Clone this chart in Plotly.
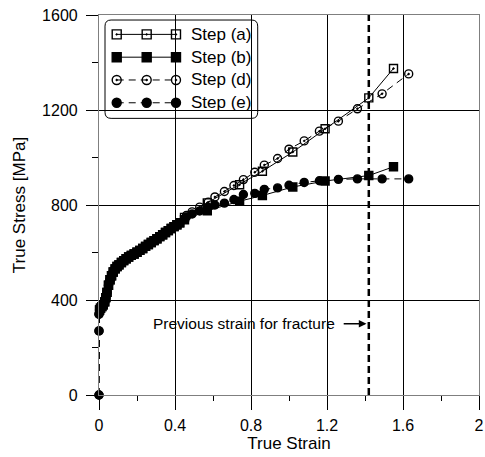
import plotly.graph_objects as go

# ---- data ----
early_strain = [0, 0, 0, 0.003, 0.008, 0.015, 0.022, 0.03, 0.036, 0.042, 0.05, 0.058,
                0.066, 0.075, 0.085, 0.095, 0.105, 0.118, 0.13, 0.143, 0.156, 0.17,
                0.185, 0.2, 0.215, 0.23, 0.245, 0.26, 0.275, 0.29, 0.305, 0.32, 0.335,
                0.35, 0.365, 0.38, 0.395, 0.41, 0.425]
early_stress = [0, 270, 340, 358, 365, 372, 380, 392, 410, 432, 462, 485,
                502, 518, 531, 541, 548, 558, 566, 574, 581, 588,
                594, 601, 609, 617, 626, 634, 642, 650, 658, 667, 675,
                684, 692, 701, 709, 717, 725]

# steps (a) and (b) start at the yield point (no elastic points)
ab_early_strain = early_strain[3:]
ab_early_stress = early_stress[3:]

ab_strain_late = [0.45, 0.57, 0.74, 0.86, 1.02, 1.19, 1.42, 1.55]
a_stress_late = [748, 809, 885, 942, 1023, 1121, 1251, 1375]
b_stress_late = [738, 776, 816, 840, 876, 901, 924, 961]

de_strain_late = [0.46, 0.49, 0.53, 0.575, 0.61, 0.66, 0.71, 0.76, 0.82, 0.87, 0.94,
                  1.00, 1.08, 1.16, 1.26, 1.36, 1.49, 1.63]
d_stress_late = [756, 771, 791, 812, 834, 857, 882, 907, 938, 968, 996,
                 1035, 1070, 1111, 1153, 1205, 1268, 1352]
e_stress_late = [750, 762, 775, 790, 800, 808, 823, 844, 849, 866, 872,
                 883, 895, 902, 908, 910, 910, 910]

series_names = ["Step (a)", "Step (b)", "Step (d)", "Step (e)"]
fracture_strain = 1.42
fracture_label = "Previous strain for fracture"
x_ticks = [0, 0.4, 0.8, 1.2, 1.6, 2]
y_ticks = [0, 400, 800, 1200, 1600]

FONT = "Liberation Sans, Arial, sans-serif"

styles = [
    dict(symbol="square-open-dot", dash="solid"),
    dict(symbol="square", dash="solid"),
    dict(symbol="circle-open-dot", dash="7px,5px"),
    dict(symbol="circle", dash="7px,5px"),
]
series = [
    (ab_early_strain + ab_strain_late, ab_early_stress + a_stress_late),
    (ab_early_strain + ab_strain_late, ab_early_stress + b_stress_late),
    (early_strain + de_strain_late, early_stress + d_stress_late),
    (early_strain + de_strain_late, early_stress + e_stress_late),
]

fig = go.Figure()

# fracture strain line
fig.add_trace(go.Scatter(
    x=[fracture_strain, fracture_strain], y=[y_ticks[0], y_ticks[-1]],
    mode="lines", line=dict(color="black", width=2.5, dash="7px,4px"),
    showlegend=False, hoverinfo="skip"))

for (xs, ys), st, name in zip(series, styles, series_names):
    fig.add_trace(go.Scatter(
        x=xs, y=ys, mode="lines+markers", name=name,
        line=dict(color="black", width=1, dash=st["dash"]),
        marker=dict(symbol=st["symbol"], size=8, color="black",
                    line=dict(color="black", width=1.4)),
        showlegend=False, cliponaxis=False))

# ---- custom legend (drawn on an overlay axis in plot-fraction units) ----
leg_x = [0.0466, 0.1255, 0.2026]
leg_y = [0.949, 0.889, 0.829, 0.769]
for st, name, yy in zip(styles, series_names, leg_y):
    fig.add_trace(go.Scatter(
        x=leg_x, y=[yy] * 3, xaxis="x2", yaxis="y2", mode="lines+markers",
        line=dict(color="black", width=1, dash=st["dash"]),
        marker=dict(symbol=st["symbol"], size=9, color="black",
                    line=dict(color="black", width=1.4)),
        showlegend=False, hoverinfo="skip", cliponaxis=False))
    fig.add_annotation(x=0.236, y=yy, xref="paper", yref="paper", text=name,
                       showarrow=False, xanchor="left", yanchor="middle",
                       font=dict(family=FONT, size=17, color="black"))

x0, x1, y0, y1, r = 0.0158, 0.4176, 0.728, 0.9868, 0.016
path = (f"M {x0+r},{y0} L {x1-r},{y0} Q {x1},{y0} {x1},{y0+r} "
        f"L {x1},{y1-r} Q {x1},{y1} {x1-r},{y1} L {x0+r},{y1} "
        f"Q {x0},{y1} {x0},{y1-r} L {x0},{y0+r} Q {x0},{y0} {x0+r},{y0} Z")
fig.add_shape(type="path", path=path, xref="paper", yref="paper",
              fillcolor="white", line=dict(color="black", width=1), layer="between")

# ---- annotation with arrow ----
fig.add_annotation(x=fracture_strain - 0.012, y=300, ax=1.28, ay=300,
                   xref="x", yref="y", axref="x", ayref="y", text="",
                   showarrow=True, arrowhead=2, arrowsize=1.1, arrowwidth=1.4,
                   arrowcolor="black")
fig.add_annotation(x=1.255, y=300, xref="x", yref="y", text=fracture_label,
                   showarrow=False, xanchor="right", yanchor="middle",
                   font=dict(family=FONT, size=15.5, color="black"))

axis_common = dict(
    showgrid=True, gridcolor="black", gridwidth=1, zeroline=False,
    showline=True, linecolor="#7f7f7f", linewidth=1.2, mirror=True,
    ticks="outside", tickcolor="black", tickwidth=1,
    tickfont=dict(family=FONT, size=16, color="black"),
    automargin=False,
)

fig.update_layout(
    width=485, height=457,
    margin=dict(l=99, r=6, t=15, b=62),
    paper_bgcolor="white", plot_bgcolor="white",
    font=dict(family=FONT, size=16, color="black"),
    xaxis=dict(range=[0, 2], tickvals=x_ticks, ticklen=14,
               ticklabelstandoff=2,
               minor=dict(dtick=0.2, tick0=0, ticks="outside", ticklen=5,
                          tickcolor="black", showgrid=False),
               title=dict(text="True Strain", font=dict(family=FONT, size=17),
                          standoff=3),
               **axis_common),
    yaxis=dict(range=[0, 1600], tickvals=y_ticks, ticklen=12,
               ticklabelstandoff=5,
               minor=dict(dtick=200, tick0=0, ticks="outside", ticklen=6,
                          tickcolor="black", showgrid=False),
               title=dict(text="True Stress [MPa]", font=dict(family=FONT, size=17),
                          standoff=12),
               **axis_common),
    xaxis2=dict(range=[0, 1], overlaying="x", visible=False, fixedrange=True),
    yaxis2=dict(range=[0, 1], overlaying="y", visible=False, fixedrange=True),
)

fig.write_html("out.html")
